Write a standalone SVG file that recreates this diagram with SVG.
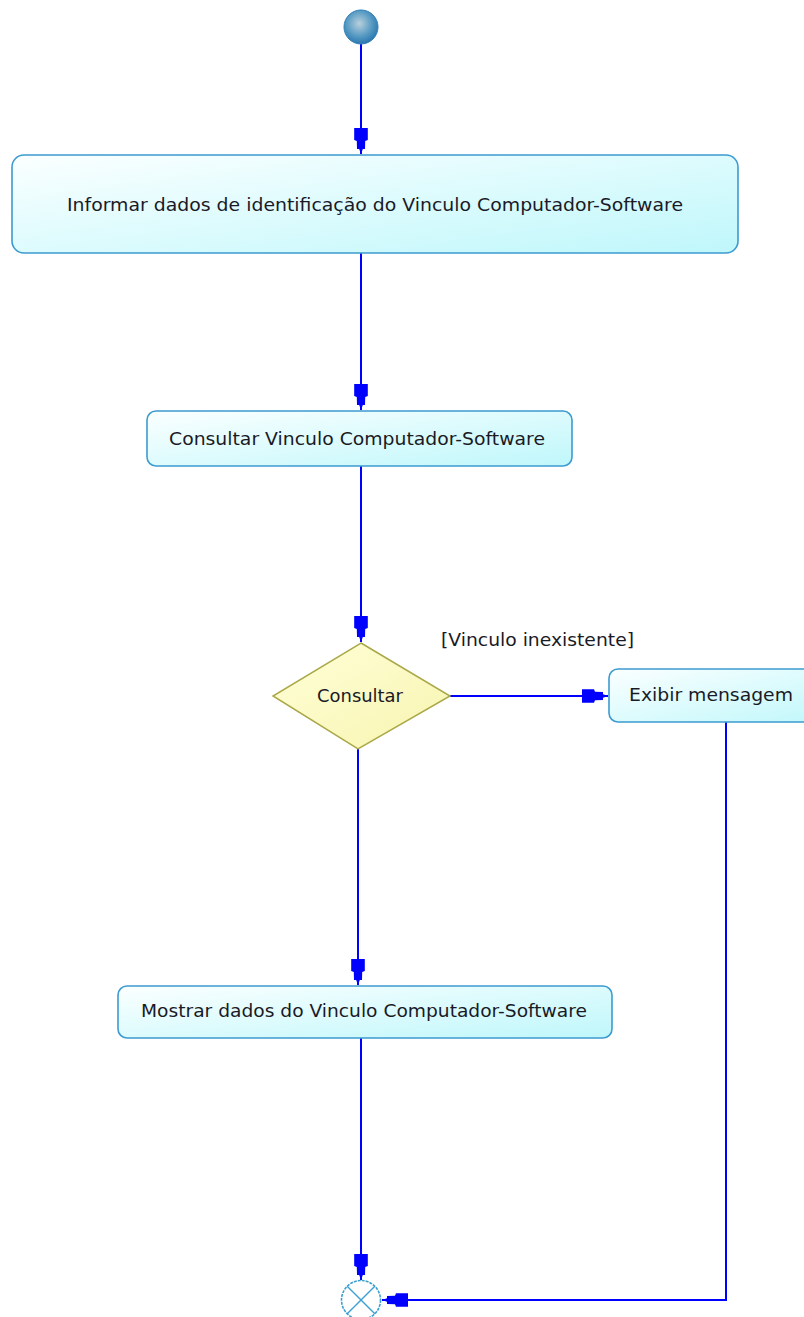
<svg xmlns="http://www.w3.org/2000/svg" width="804" height="1317" viewBox="0 0 804 1317">
<defs>
<style>
.act{stroke:#3c9bd0;stroke-width:1.6;fill:url(#gAct)}
.lbl{font-family:"DejaVu Sans","Liberation Sans",sans-serif;font-size:17.5px;fill:#1a1a26}
.flow{fill:none;stroke:#0000ff;stroke-width:2}
</style>
<linearGradient id="gAct" x1="0" y1="0" x2="1" y2="1">
<stop offset="0" stop-color="#fbffff"/>
<stop offset="1" stop-color="#bff7fb"/>
</linearGradient>
<linearGradient id="gDec" x1="0" y1="0" x2="1" y2="1">
<stop offset="0" stop-color="#ffffd8"/>
<stop offset="1" stop-color="#f8f4b0"/>
</linearGradient>
<radialGradient id="gStart" cx="0.45" cy="0.4" r="0.6">
<stop offset="0" stop-color="#b8d0dc"/>
<stop offset="0.6" stop-color="#5a9cc4"/>
<stop offset="1" stop-color="#2a78b0"/>
</radialGradient>
<marker id="arr" viewBox="-27 -8 28 16" refX="0" refY="0" markerWidth="28" markerHeight="16" markerUnits="userSpaceOnUse" orient="auto">
<path d="M0,0 L-5,-1.8 L-5,-4 L-13,-4.2 L-14,-6.8 L-26,-6.8 L-26,6.8 L-14,6.8 L-13,4.2 L-5,4 L-5,1.8 Z" fill="#0000ff"/>
</marker>
</defs>
<rect width="804" height="1317" fill="#ffffff"/>
<g id="connectors">
<line class="flow" x1="361" y1="44" x2="361" y2="154" marker-end="url(#arr)"/>
<line class="flow" x1="361" y1="253" x2="361" y2="410" marker-end="url(#arr)"/>
<line class="flow" x1="361" y1="466" x2="361" y2="642" marker-end="url(#arr)"/>
<line class="flow" x1="450" y1="696" x2="608" y2="696" marker-end="url(#arr)"/>
<line class="flow" x1="358" y1="749" x2="358" y2="985" marker-end="url(#arr)"/>
<line class="flow" x1="361" y1="1038" x2="361" y2="1280" marker-end="url(#arr)"/>
<polyline class="flow" points="726,722 726,1300 382,1300" marker-end="url(#arr)"/>
<text class="lbl" x="441" y="646" textLength="193" lengthAdjust="spacingAndGlyphs">[Vinculo inexistente]</text>
</g>
<g id="start">
<circle cx="361" cy="27" r="17" fill="url(#gStart)" stroke="#3080b8" stroke-width="1"/>
</g>
<g id="informar">
<rect class="act" x="12" y="155" width="726" height="98" rx="12"/>
<text class="lbl" x="67" y="211" textLength="616" lengthAdjust="spacingAndGlyphs">Informar dados de identificação do Vinculo Computador-Software</text>
</g>
<g id="consultarVinculo">
<rect class="act" x="147" y="411" width="425" height="55" rx="9"/>
<text class="lbl" x="169" y="445" textLength="376" lengthAdjust="spacingAndGlyphs">Consultar Vinculo Computador-Software</text>
</g>
<g id="decisao">
<polygon points="361,643 450,696 358,749 273,696" fill="url(#gDec)" stroke="#aaa848" stroke-width="1.5"/>
<text class="lbl" x="317" y="702" textLength="86" lengthAdjust="spacingAndGlyphs">Consultar</text>
</g>
<g id="exibir">
<rect class="act" x="609" y="669" width="230" height="53" rx="9"/>
<text class="lbl" x="629" y="701" textLength="164" lengthAdjust="spacingAndGlyphs">Exibir mensagem</text>
</g>
<g id="mostrar">
<rect class="act" x="118" y="986" width="494" height="52" rx="9"/>
<text class="lbl" x="141" y="1017" textLength="446" lengthAdjust="spacingAndGlyphs">Mostrar dados do Vinculo Computador-Software</text>
</g>
<g id="fim">
<circle cx="361" cy="1300" r="19.5" fill="#ffffff" stroke="#3ca0d0" stroke-width="1.6" stroke-dasharray="3 1"/>
<line x1="347.2" y1="1286.2" x2="374.8" y2="1313.8" stroke="#3ca0d0" stroke-width="1.4"/>
<line x1="374.8" y1="1286.2" x2="347.2" y2="1313.8" stroke="#3ca0d0" stroke-width="1.4"/>
</g>
</svg>
